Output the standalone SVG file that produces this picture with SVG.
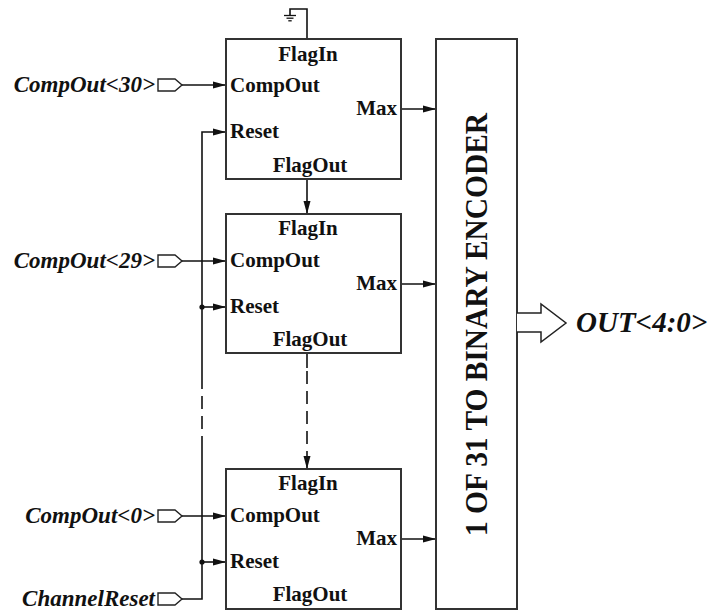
<svg xmlns="http://www.w3.org/2000/svg" width="710" height="612" viewBox="0 0 710 612">
  <defs>
    <marker id="arr" markerUnits="userSpaceOnUse" markerWidth="13" markerHeight="8" refX="13" refY="4" orient="auto">
      <path d="M0,0.5 L13,4 L0,7.5 z" fill="#111"/>
    </marker>
    <style>
      .blk { fill: #fff; stroke: #333; stroke-width: 2; }
      .wire { fill: none; stroke: #111; stroke-width: 1.6; }
      .dash { fill: none; stroke: #111; stroke-width: 1.6; stroke-dasharray: 13 7; }
      .pin { fill: #fff; stroke: #222; stroke-width: 1.4; }
      text { font-family: 'Liberation Serif', 'DejaVu Serif', 'Noto Serif', serif; fill: #111; }
      .lbl { font-weight: bold; font-size: 21px; }
      .sig { font-weight: bold; font-style: italic; font-size: 23px; }
      .dot { fill: #111; }
    </style>
  </defs>
  <rect x="0" y="0" width="710" height="612" fill="#fff"/>

  <g id="connectors">
    <path class="wire" d="M307,39 V9 H290 V15"/>
    <line class="wire" x1="182" y1="85" x2="226" y2="85" marker-end="url(#arr)"/>
    <line class="wire" x1="182" y1="261" x2="226" y2="261" marker-end="url(#arr)"/>
    <line class="wire" x1="182" y1="516" x2="226" y2="516" marker-end="url(#arr)"/>
    <path class="wire" d="M182,599 H202 V443"/>
    <line class="dash" x1="202" y1="376" x2="202" y2="443"/>
    <path class="wire" d="M202,376 V132 H226" marker-end="url(#arr)"/>
    <line class="wire" x1="202" y1="307" x2="226" y2="307" marker-end="url(#arr)"/>
    <line class="wire" x1="202" y1="562" x2="226" y2="562" marker-end="url(#arr)"/>
    <circle class="dot" cx="202" cy="307" r="2.6"/>
    <circle class="dot" cx="202" cy="562" r="2.6"/>
    <line class="wire" x1="307" y1="179" x2="307" y2="214" marker-end="url(#arr)"/>
    <line class="wire" x1="307" y1="353" x2="307" y2="368"/>
    <line class="dash" x1="307" y1="371" x2="307" y2="455"/>
    <line class="wire" x1="307" y1="455" x2="307" y2="469" marker-end="url(#arr)"/>
    <line class="wire" x1="401" y1="109" x2="436" y2="109" marker-end="url(#arr)"/>
    <line class="wire" x1="401" y1="284" x2="436" y2="284" marker-end="url(#arr)"/>
    <line class="wire" x1="401" y1="539" x2="436" y2="539" marker-end="url(#arr)"/>
  </g>

  <g id="ground">
    <line class="wire" x1="284" y1="15.5" x2="296" y2="15.5" style="stroke-width:1.3"/>
    <line class="wire" x1="286.5" y1="18.2" x2="293.5" y2="18.2" style="stroke-width:1.3"/>
    <line class="wire" x1="288.3" y1="20.8" x2="291.7" y2="20.8" style="stroke-width:1.3"/>
  </g>

  <g id="in_comp30">
    <path class="pin" d="M158,79 H175 L182,85 L175,91 H158 Z"/>
    <text class="sig" x="155" y="92" text-anchor="end">CompOut&lt;30&gt;</text>
  </g>
  <g id="in_comp29">
    <path class="pin" d="M158,255 H175 L182,261 L175,267 H158 Z"/>
    <text class="sig" x="155" y="268" text-anchor="end">CompOut&lt;29&gt;</text>
  </g>
  <g id="in_comp0">
    <path class="pin" d="M158,510 H175 L182,516 L175,522 H158 Z"/>
    <text class="sig" x="155" y="523" text-anchor="end">CompOut&lt;0&gt;</text>
  </g>
  <g id="in_reset">
    <path class="pin" d="M158,593 H175 L182,599 L175,605 H158 Z"/>
    <text class="sig" x="155" y="606" text-anchor="end">ChannelReset</text>
  </g>

  <g id="block1">
    <rect class="blk" x="226" y="39" width="175" height="140"/>
    <text class="lbl" x="308" y="61" text-anchor="middle">FlagIn</text>
    <text class="lbl" x="230" y="92">CompOut</text>
    <text class="lbl" x="397" y="115" text-anchor="end">Max</text>
    <text class="lbl" x="230" y="138">Reset</text>
    <text class="lbl" x="310" y="172" text-anchor="middle">FlagOut</text>
  </g>
  <g id="block2">
    <rect class="blk" x="226" y="214" width="175" height="139"/>
    <text class="lbl" x="308" y="235" text-anchor="middle">FlagIn</text>
    <text class="lbl" x="230" y="267">CompOut</text>
    <text class="lbl" x="397" y="290" text-anchor="end">Max</text>
    <text class="lbl" x="230" y="313">Reset</text>
    <text class="lbl" x="310" y="346" text-anchor="middle">FlagOut</text>
  </g>
  <g id="block3">
    <rect class="blk" x="226" y="469" width="175" height="140"/>
    <text class="lbl" x="308" y="490" text-anchor="middle">FlagIn</text>
    <text class="lbl" x="230" y="522">CompOut</text>
    <text class="lbl" x="397" y="545" text-anchor="end">Max</text>
    <text class="lbl" x="230" y="568">Reset</text>
    <text class="lbl" x="310" y="601" text-anchor="middle">FlagOut</text>
  </g>

  <g id="encoder">
    <rect class="blk" x="436" y="39" width="81" height="570"/>
    <text class="lbl" transform="translate(487,324.5) rotate(-90)" text-anchor="middle" style="font-size:31px" textLength="423" lengthAdjust="spacingAndGlyphs">1 OF 31 TO BINARY ENCODER</text>
  </g>

  <g id="output">
    <path class="pin" d="M517,313 H541 V304 L566,323 L541,342 V332 H517" style="stroke-width:1.5"/>
    <text class="sig" x="576" y="332" style="font-size:29px">OUT&lt;4:0&gt;</text>
  </g>
</svg>
